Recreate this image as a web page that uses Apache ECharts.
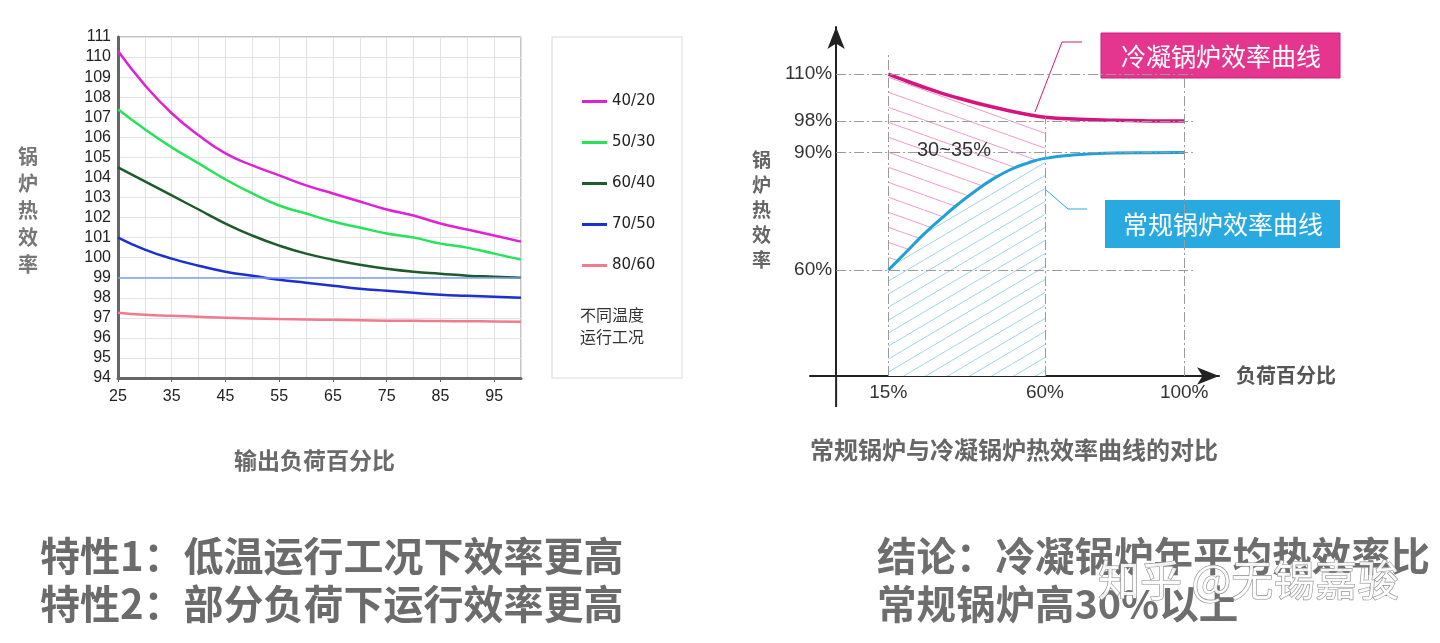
<!DOCTYPE html>
<html>
<head>
<meta charset="utf-8">
<script src="https://cdn.jsdelivr.net/npm/echarts@6/dist/echarts.min.js"></script>
<style>
  html, body { margin: 0; padding: 0; background: #fff; }
  #main { width: 1440px; height: 643px; }
</style>
</head>
<body>
<div id="main"></div>
<script>
// 左图：不同温度运行工况
const loadCats = ['25','30','35','40','45','50','55','60','65','70','75','80','85','90','95','100'];
const eff4020 = [110.3,108.6,107.2,106.1,105.2,104.6,104.1,103.6,103.2,102.8,102.4,102.1,101.7,101.4,101.1,100.8];
const eff5030 = [107.4,106.4,105.5,104.7,103.9,103.2,102.6,102.2,101.8,101.5,101.2,101.0,100.7,100.5,100.2,99.9];
const eff6040 = [104.5,103.8,103.1,102.4,101.7,101.1,100.6,100.2,99.9,99.65,99.45,99.3,99.2,99.1,99.05,99.0];
const eff7050 = [101.0,100.4,99.95,99.6,99.3,99.1,98.9,98.75,98.6,98.45,98.35,98.25,98.15,98.1,98.05,98.0];
const eff8060 = [97.25,97.15,97.1,97.05,97.0,96.97,96.94,96.92,96.9,96.88,96.86,96.85,96.84,96.83,96.82,96.8];
const tempNames = ['40/20','50/30','60/40','70/50','80/60'];
const refLine = 99;

// 右图：常规锅炉与冷凝锅炉对比
const loadPct = [15,20,25,30,35,40,45,50,55,60,70,80,90,100];
const condensingEff = [110,108.3,106.7,105.2,103.9,102.7,101.6,100.6,99.7,99.0,98.5,98.2,98.05,98];
const conventionalEff = [60,64.5,69,73,76.8,80.2,83.2,85.6,87.3,88.5,89.5,89.85,89.95,90];
const effTicks = [60,90,98,110];
const loadTicks = [15,60,100];
const hatchEnd = 60;

const CJK = '"Noto Sans CJK SC", sans-serif';
const LAT = '"Liberation Sans", Arial, sans-serif';

// 斜线填充
function hatch(color, w, h, up, bg) {
  const c = document.createElement('canvas');
  c.width = w; c.height = h;
  const ctx = c.getContext('2d');
  if (bg) { ctx.fillStyle = bg; ctx.fillRect(0, 0, w, h); }
  ctx.strokeStyle = color;
  ctx.lineWidth = 1;
  ctx.beginPath();
  if (up) { ctx.moveTo(-w, 2 * h); ctx.lineTo(2 * w, -h); }
  else { ctx.moveTo(-w, -h); ctx.lineTo(2 * w, 2 * h); }
  ctx.stroke();
  return c;
}

const leftColors = ['#e021d6','#27e35a','#1e5a2c','#1c2fd0','#f27a8e'];
const leftData = [eff4020, eff5030, eff6040, eff7050, eff8060];

const pairs = (ys) => loadPct.map((x, i) => [x, ys[i]]);
const hatchPairs = (ys) => loadPct.filter(x => x <= hatchEnd).map((x, i) => [x, ys[i]]);

// 右图坐标范围
const xMin = -7.5, xMax = 110, rightW = 409, rightLeft = 810;
const zeroOffset = (0 - xMin) / (xMax - xMin) * rightW;

const dashDot = [10, 3, 2, 3];
const gridMark = {
  silent: true, symbol: 'none', label: { show: false },
  lineStyle: { color: '#9a9a9a', width: 1, type: dashDot },
  data: effTicks.map(v => [{ coord: [0, v] }, { coord: [102.5, v] }]).concat([
    [{ coord: [15, 33] }, { coord: [15, 115.5] }],
    [{ coord: [60, 33] }, { coord: [60, 99] }],
    [{ coord: [100, 33] }, { coord: [100, 109] }]
  ])
};

let series = leftData.map((d, i) => ({
  name: tempNames[i], type: 'line', data: d, smooth: true, showSymbol: false,
  xAxisIndex: 0, yAxisIndex: 0,
  itemStyle: { color: leftColors[i] },
  lineStyle: { color: leftColors[i], width: 2.5 },
  z: 3
}));
series[0].markLine = {
  silent: true, symbol: 'none', label: { show: false },
  lineStyle: { color: '#7f9cff', width: 1.5, type: 'solid' },
  data: [{ yAxis: refLine }]
};

series = series.concat([
  {
    name: 'pinkHatch', type: 'line', xAxisIndex: 1, yAxisIndex: 1,
    data: hatchPairs(condensingEff), smooth: true, showSymbol: false,
    lineStyle: { width: 0 },
    areaStyle: { origin: 'start', opacity: 1, color: { image: hatch('#f29ac8', 42, 15, false), repeat: 'repeat' } },
    z: 1, silent: true
  },
  {
    name: 'blueHatch', type: 'line', xAxisIndex: 1, yAxisIndex: 1,
    data: hatchPairs(conventionalEff), smooth: true, showSymbol: false,
    lineStyle: { width: 0 },
    areaStyle: { origin: 'start', opacity: 1, color: { image: hatch('#9ad5f0', 22, 13, true, '#ffffff'), repeat: 'repeat' } },
    z: 2, silent: true
  },
  {
    name: 'grid', type: 'line', xAxisIndex: 1, yAxisIndex: 1, data: [],
    markLine: gridMark, z: 3
  },
  {
    name: '冷凝锅炉效率曲线', type: 'line', xAxisIndex: 1, yAxisIndex: 1,
    data: pairs(condensingEff), smooth: true, showSymbol: false,
    lineStyle: { color: '#d4157e', width: 3.5 }, z: 4
  },
  {
    name: '常规锅炉效率曲线', type: 'line', xAxisIndex: 1, yAxisIndex: 1,
    data: pairs(conventionalEff), smooth: true, showSymbol: false,
    lineStyle: { color: '#1f9fdc', width: 3 }, z: 4
  }
]);

const txt = (x, y, text, font, color, extra) => ({
  type: 'text', left: x, top: y, z: 10, silent: true,
  style: Object.assign({ x: 0, y: 0, text: text, font: font, fill: color }, extra || {})
});

const chart = echarts.init(document.getElementById('main'));
chart.setOption({
  animation: false,
  backgroundColor: '#fff',
  grid: [
    { left: 118, right: 919, top: 37, bottom: 265, show: true, borderColor: '#8a8a8a', borderWidth: 1 },
    { left: rightLeft, width: rightW, top: 27, bottom: 267 }
  ],
  legend: {
    data: tempNames, orient: 'vertical', left: 577, top: 89,
    itemWidth: 25, itemHeight: 3, icon: 'rect', itemGap: 26,
    textStyle: { fontSize: 15, color: '#222', fontFamily: '"DejaVu Sans", sans-serif' }
  },
  xAxis: [
    {
      gridIndex: 0, type: 'category', data: loadCats, boundaryGap: false,
      axisLine: { lineStyle: { color: '#666', width: 3 } },
      axisTick: { show: true, interval: 1, length: 4, lineStyle: { color: '#666' } },
      axisLabel: { interval: 1, margin: 11, fontSize: 16, color: '#222', fontFamily: LAT },
      splitLine: { show: true, interval: 0, lineStyle: { color: '#e2e2e2' } }
    },
    {
      gridIndex: 1, type: 'value', min: xMin, max: xMax,
      axisLine: { onZero: false, lineStyle: { color: '#222', width: 2 }, symbol: ['none', 'arrow'], symbolSize: [13, 22] },
      axisTick: { show: false },
      axisLabel: { customValues: loadTicks, formatter: '{value}%', margin: 7, fontSize: 19, color: '#333', fontFamily: LAT },
      splitLine: { show: false }
    }
  ],
  yAxis: [
    {
      gridIndex: 0, type: 'value', min: 94, max: 111, interval: 1,
      axisLine: { show: true, lineStyle: { color: '#666', width: 3 } },
      axisTick: { show: false },
      axisLabel: { margin: 7, fontSize: 16, color: '#222', fontFamily: LAT },
      splitLine: { lineStyle: { color: '#e2e2e2' } }
    },
    {
      gridIndex: 1, type: 'value', min: 33, max: 122, offset: -zeroOffset,
      axisLine: { show: true, onZero: false, lineStyle: { color: '#222', width: 2 }, symbol: ['none', 'arrow'], symbolSize: [13, 22] },
      axisTick: { show: false },
      axisLabel: { customValues: effTicks, formatter: '{value}%', margin: 4, fontSize: 19, color: '#333', fontFamily: LAT },
      splitLine: { show: false }
    }
  ],
  series: series
});

// 坐标轴下延、标注与文字
const yBase = chart.convertToPixel({ gridIndex: 1 }, [0, 33]);
chart.setOption({
  graphic: [
    { type: 'line', silent: true, shape: { x1: yBase[0], y1: yBase[1], x2: yBase[0], y2: yBase[1] + 31 }, style: { stroke: '#222', lineWidth: 2 } },
    // 图例边框
    { type: 'rect', silent: true, shape: { x: 552, y: 37, width: 130, height: 341 }, style: { fill: 'none', stroke: '#e6e6e6', lineWidth: 1.5 } },
    txt(580, 304, '不同温度\n运行工况', '16px ' + CJK, '#333', { lineHeight: 22 }),
    // 左图坐标轴名
    txt(18, 143, '锅\n炉\n热\n效\n率', 'bold 20px ' + CJK, '#777', { lineHeight: 27 }),
    txt(234, 449, '输出负荷百分比', 'bold 23px ' + CJK, '#6a6a6a'),
    // 右图
    txt(752, 147, '锅\n炉\n热\n效\n率', 'bold 19px ' + CJK, '#666', { lineHeight: 25 }),
    txt(1236, 365, '负荷百分比', 'bold 20px ' + CJK, '#555'),
    txt(810, 438, '常规锅炉与冷凝锅炉热效率曲线的对比', 'bold 24px ' + CJK, '#666'),
    txt(917, 140, '30~35%', '20px ' + LAT, '#333'),
    { type: 'polyline', silent: true, shape: { points: [[1082, 42], [1062, 42], [1035, 112]] }, style: { stroke: '#d4157e', lineWidth: 1, fill: 'none' } },
    { type: 'polyline', silent: true, shape: { points: [[1023, 170], [1068, 209], [1087, 209]] }, style: { stroke: '#2aa6dd', lineWidth: 1, fill: 'none' } },
    { type: 'rect', silent: true, shape: { x: 1101, y: 33, width: 239, height: 45 }, style: { fill: '#e4368f', stroke: '#cf1f7c', lineWidth: 1 } },
    { type: 'text', silent: true, z: 10, style: { x: 1221, y: 56, text: '冷凝锅炉效率曲线', font: '25px ' + CJK, fill: '#fff', align: 'center', verticalAlign: 'middle' } },
    { type: 'rect', silent: true, shape: { x: 1105, y: 200, width: 235, height: 48 }, style: { fill: '#28a9e0' } },
    { type: 'text', silent: true, z: 10, style: { x: 1223, y: 224, text: '常规锅炉效率曲线', font: '25px ' + CJK, fill: '#fff', align: 'center', verticalAlign: 'middle' } },
    // 底部文字
    { type: 'text', silent: true, z: 10, style: { x: 40, y: 556, text: '特性1：低温运行工况下效率更高', font: 'bold 40px ' + CJK, fill: '#6b6b6b', verticalAlign: 'middle' } },
    { type: 'text', silent: true, z: 10, style: { x: 40, y: 604, text: '特性2：部分负荷下运行效率更高', font: 'bold 40px ' + CJK, fill: '#6b6b6b', verticalAlign: 'middle' } },
    { type: 'text', silent: true, z: 10, style: { x: 877, y: 556, text: '结论：冷凝锅炉年平均热效率比', font: 'bold 39.5px ' + CJK, fill: '#6e6e6e', verticalAlign: 'middle' } },
    { type: 'text', silent: true, z: 10, style: { x: 877, y: 604, text: '常规锅炉高30%以上', font: 'bold 39.5px ' + CJK, fill: '#6e6e6e', verticalAlign: 'middle' } },
    { type: 'text', silent: true, z: 20, style: { x: 1098, y: 580, text: '知乎 @无锡嘉骏', font: '42px ' + CJK, fill: 'rgba(255,255,255,0.9)', stroke: '#8c8c8c', lineWidth: 1.2, verticalAlign: 'middle' } }
  ]
});
</script>
</body>
</html>
